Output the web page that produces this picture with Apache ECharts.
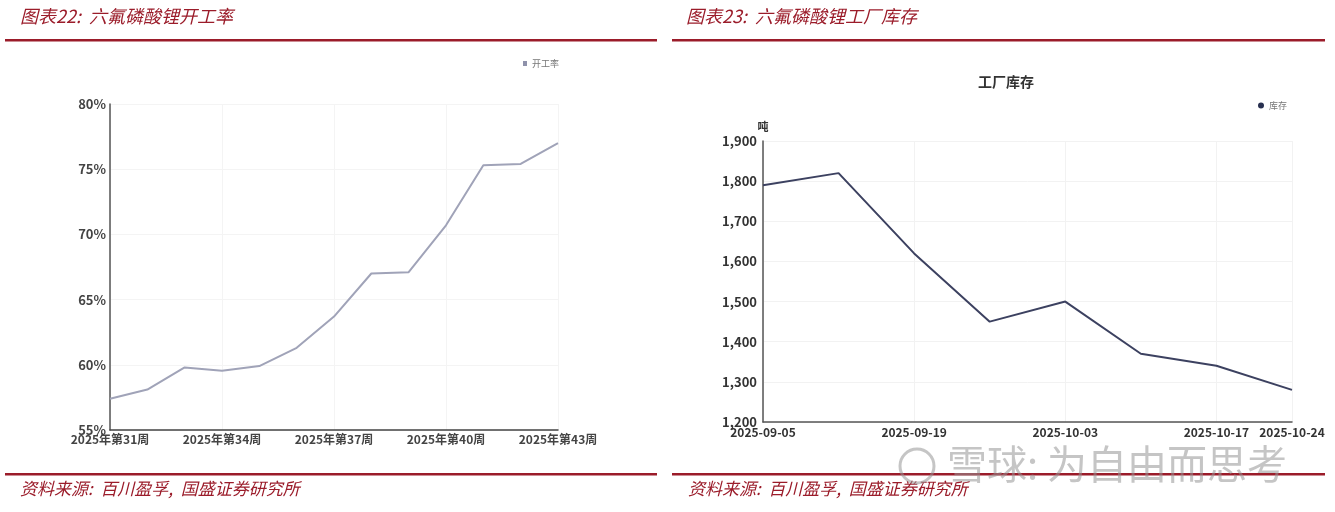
<!DOCTYPE html>
<html>
<head>
<meta charset="utf-8">
<script src="https://cdn.jsdelivr.net/npm/echarts@6/dist/echarts.min.js"></script>
<style>
  html, body { margin: 0; padding: 0; background: #fff; }
  #chart { width: 1335px; height: 512px; }
</style>
</head>
<body>
<div id="chart"></div>
<script>
// left chart: operating rate, weekly
const weeks = ['2025年第31周', '2025年第32周', '2025年第33周', '2025年第34周', '2025年第35周',
  '2025年第36周', '2025年第37周', '2025年第38周', '2025年第39周', '2025年第40周',
  '2025年第41周', '2025年第42周', '2025年第43周'];
const rate = [57.4, 58.1, 59.8, 59.55, 59.9, 61.3, 63.7, 67.0, 67.1, 70.7, 75.3, 75.4, 77.0];

// right chart: factory inventory (吨)
const dates = ['2025-09-05', '2025-09-12', '2025-09-19', '2025-09-26',
  '2025-10-03', '2025-10-10', '2025-10-17', '2025-10-24'];
const stock = [1790, 1820, 1620, 1450, 1500, 1370, 1340, 1280];

const red = '#9b1c2a';
const headFont = '"Noto Sans CJK SC", sans-serif';

const chart = echarts.init(document.getElementById('chart'));

// only every other date, plus the last one
const dateInterval = (i) => i % 2 === 0 || i === dates.length - 1;

const option = {
  animation: false,
  textStyle: { fontFamily: '"Noto Sans CJK SC", "Noto Sans", sans-serif' },
  grid: [
    { left: 110, top: 104, width: 448, height: 326 },
    { left: 763, top: 141, width: 529, height: 281 }
  ],
  legend: [
    {
      data: ['开工率'], left: 518, top: 54,
      icon: 'rect', itemWidth: 4, itemHeight: 5, itemGap: 2,
      textStyle: { fontSize: 9, color: '#777' }
    },
    {
      data: ['库存'], left: 1253, top: 96,
      icon: 'circle', itemWidth: 6, itemHeight: 6,
      textStyle: { fontSize: 9, color: '#777' }
    }
  ],
  xAxis: [
    {
      gridIndex: 0, type: 'category', data: weeks, boundaryGap: false,
      axisLine: { lineStyle: { color: '#444', width: 1.5 } },
      axisTick: { show: false },
      axisLabel: { interval: 2, color: '#444', fontSize: 12, fontWeight: 'bold', margin: 3 },
      splitLine: { show: true, interval: 2, lineStyle: { color: '#f4f4f4' } }
    },
    {
      gridIndex: 1, type: 'category', data: dates, boundaryGap: false,
      axisLine: { lineStyle: { color: '#555', width: 1.5 } },
      axisTick: { show: false },
      axisLabel: { interval: dateInterval, color: '#333', fontSize: 12, fontWeight: 'bold', margin: 4 },
      splitLine: { show: true, interval: dateInterval, lineStyle: { color: '#f2f2f2' } }
    }
  ],
  yAxis: [
    {
      gridIndex: 0, type: 'value', min: 55, max: 80, interval: 5,
      axisLine: { show: true, lineStyle: { color: '#555', width: 1.5 } },
      axisTick: { show: false },
      axisLabel: { formatter: '{value}%', color: '#444', fontSize: 13, fontWeight: 'bold', margin: 4 },
      splitLine: { lineStyle: { color: '#f4f4f4' } }
    },
    {
      gridIndex: 1, type: 'value', min: 1200, max: 1900, interval: 100,
      name: '吨', nameLocation: 'end', nameGap: 9,
      nameTextStyle: { color: '#333', fontSize: 11, fontWeight: 'bold', align: 'center' },
      axisLine: { show: true, lineStyle: { color: '#555', width: 1.5 } },
      axisTick: { show: false },
      axisLabel: {
        formatter: (v) => v.toLocaleString('en-US'),
        color: '#333', fontSize: 13, fontWeight: 'bold', margin: 6
      },
      splitLine: { lineStyle: { color: '#f2f2f2' } }
    }
  ],
  series: [
    {
      name: '开工率', type: 'line', xAxisIndex: 0, yAxisIndex: 0, data: rate,
      symbol: 'none', color: '#8f92ab',
      lineStyle: { color: '#a0a3b8', width: 2 }
    },
    {
      name: '库存', type: 'line', xAxisIndex: 1, yAxisIndex: 1, data: stock,
      symbol: 'none', color: '#283050',
      lineStyle: { color: '#3c4160', width: 2 }
    }
  ],
  graphic: [
    // headers
    { type: 'text', left: 20, top: 7, style: { text: '图表22:  六氟磷酸锂开工率', font: 'italic 18px ' + headFont, fill: red } },
    { type: 'text', left: 686, top: 7, style: { text: '图表23:  六氟磷酸锂工厂库存', font: 'italic 18px ' + headFont, fill: red } },
    { type: 'rect', shape: { x: 5, y: 39, width: 652, height: 2.5 }, style: { fill: red } },
    { type: 'rect', shape: { x: 672, y: 39, width: 653, height: 2.5 }, style: { fill: red } },
    // chart title on the right
    { type: 'text', left: 978, top: 75, style: { text: '工厂库存', font: 'bold 14px ' + headFont, fill: '#333' } },
    // footers
    { type: 'rect', shape: { x: 5, y: 473, width: 652, height: 2.5 }, style: { fill: red } },
    { type: 'rect', shape: { x: 672, y: 473, width: 653, height: 2.5 }, style: { fill: red } },
    { type: 'text', left: 20, top: 480, style: { text: '资料来源:  百川盈孚,  国盛证券研究所', font: 'italic 17px ' + headFont, fill: red } },
    { type: 'text', left: 688, top: 480, style: { text: '资料来源:  百川盈孚,  国盛证券研究所', font: 'italic 17px ' + headFont, fill: red } },
    // watermark
    { type: 'circle', z: 100, shape: { cx: 917, cy: 466, r: 17 }, style: { fill: 'none', stroke: 'rgba(150,150,150,0.55)', lineWidth: 3 } },
    { type: 'text', left: 947, top: 444, z: 100, style: { text: '雪球: 为自由而思考', font: '40px ' + headFont, fill: 'rgba(150,150,150,0.55)' } }
  ]
};

chart.setOption(option);
</script>
</body>
</html>
